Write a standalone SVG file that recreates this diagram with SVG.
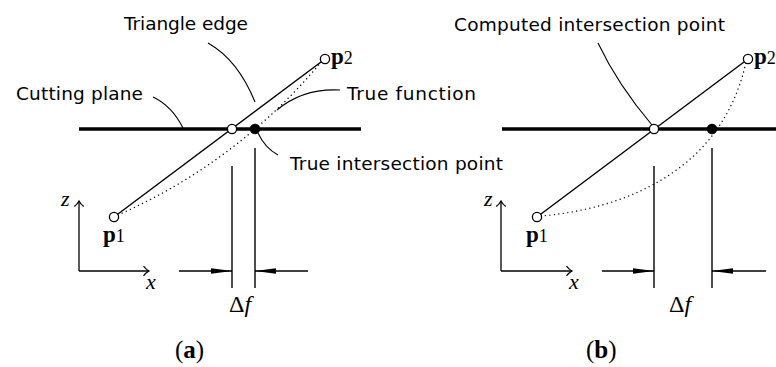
<svg xmlns="http://www.w3.org/2000/svg" width="776" height="367" viewBox="0 0 776 367">
<defs>
<marker id="fa" markerUnits="userSpaceOnUse" markerWidth="22" markerHeight="8" viewBox="0 0 22 8" refX="21" refY="4" orient="auto">
<path d="M0,1.3 L21,4 L0,6.7 Z" fill="#000"/>
</marker>
<marker id="oa" markerUnits="userSpaceOnUse" markerWidth="12" markerHeight="12" viewBox="0 0 12 12" refX="10" refY="6" orient="auto">
<path d="M4.5,1.2 Q7,4.5 10,6 Q7,7.5 4.5,10.8" fill="none" stroke="#000" stroke-width="1.2"/>
</marker>
</defs>
<style>
.lbl{font-family:"DejaVu Sans","Liberation Sans",sans-serif;font-size:18.5px;fill:#000}
.math{font-family:"Liberation Serif","DejaVu Serif",serif;fill:#000}
.plane{stroke:#000;stroke-width:3.5;fill:none}
.edge{stroke:#000;stroke-width:1.4;fill:none}
.dot{stroke:#000;stroke-width:1.4;fill:none;stroke-dasharray:0.01 4.5;stroke-linecap:round}
.lead{stroke:#000;stroke-width:1.1;fill:none}
.vl{stroke:#000;stroke-width:1.4;fill:none}
.dim{stroke:#000;stroke-width:1.3;fill:none;marker-end:url(#fa)}
.ax{stroke:#000;stroke-width:1.3;fill:none;marker-end:url(#oa)}
.oc{fill:#fff;stroke:#000;stroke-width:1.3}
.fc{fill:#000;stroke:#000;stroke-width:1}
</style>

<!-- Panel (a) -->
<g id="a-plane"><line class="plane" x1="79" y1="129" x2="361" y2="129"/></g>
<g id="connectors-a">
<line class="edge" x1="114" y1="217" x2="325" y2="59"/>
<path class="dot" d="M118,215 Q238,162 322,61"/>
<path class="lead" d="M208,43 Q238,60 255,102"/>
<path class="lead" d="M153,97 Q172,106 183,128"/>
<path class="lead" d="M340,90 Q303,88 277,110"/>
<path class="lead" d="M258,133 Q265,148 278,155"/>
<line class="vl" x1="232" y1="166" x2="232" y2="288"/>
<line class="vl" x1="255" y1="148" x2="255" y2="288"/>
<line class="dim" x1="179" y1="271" x2="232" y2="271"/>
<line class="dim" x1="308" y1="271" x2="255" y2="271"/>
<line class="ax" x1="79" y1="271" x2="79" y2="201"/>
<line class="ax" x1="79" y1="271" x2="149" y2="271"/>
</g>
<g id="a-p1"><circle class="oc" cx="114" cy="217" r="4.6"/>
<text class="math" x="103" y="242" font-size="23" font-weight="bold">p<tspan font-weight="normal" font-size="18">1</tspan></text></g>
<g id="a-p2"><circle class="oc" cx="325" cy="59" r="4.6"/>
<text class="math" x="331" y="64" font-size="23" font-weight="bold">p<tspan font-weight="normal" font-size="18">2</tspan></text></g>
<g id="a-computed"><circle class="oc" cx="232" cy="129" r="4.6"/></g>
<g id="a-true"><circle class="fc" cx="255" cy="129" r="4.8"/></g>
<g id="a-labels">
<text class="lbl" x="124" y="30" textLength="124">Triangle edge</text>
<text class="lbl" x="16" y="100" textLength="127">Cutting plane</text>
<text class="lbl" x="347" y="100" textLength="129">True function</text>
<text class="lbl" x="290" y="170" textLength="213">True intersection point</text>
<text class="math" x="229" y="312" font-size="24">Δ<tspan font-style="italic">f</tspan></text>
<text class="math" x="61" y="206" font-size="22" font-style="italic">z</text>
<text class="math" x="146" y="289" font-size="22" font-style="italic">x</text>
<text class="math" x="175" y="358" font-size="25">(<tspan font-weight="bold">a</tspan>)</text>
</g>

<!-- Panel (b) -->
<g id="b-plane"><line class="plane" x1="502" y1="129" x2="776" y2="129"/></g>
<g id="connectors-b">
<line class="edge" x1="537" y1="217" x2="748" y2="59"/>
<path class="dot" d="M541,216 C610,210 720,180 746,62"/>
<path class="lead" d="M598,43 Q618,85 652,125"/>
<line class="vl" x1="654" y1="166" x2="654" y2="288"/>
<line class="vl" x1="712" y1="148" x2="712" y2="288"/>
<line class="dim" x1="602" y1="271" x2="654" y2="271"/>
<line class="dim" x1="766" y1="271" x2="712" y2="271"/>
<line class="ax" x1="501" y1="271" x2="501" y2="201"/>
<line class="ax" x1="501" y1="271" x2="572" y2="271"/>
</g>
<g id="b-p1"><circle class="oc" cx="537" cy="217" r="4.6"/>
<text class="math" x="526" y="242" font-size="23" font-weight="bold">p<tspan font-weight="normal" font-size="18">1</tspan></text></g>
<g id="b-p2"><circle class="oc" cx="748" cy="59" r="4.6"/>
<text class="math" x="754" y="64" font-size="23" font-weight="bold">p<tspan font-weight="normal" font-size="18">2</tspan></text></g>
<g id="b-computed"><circle class="oc" cx="654" cy="129" r="4.6"/></g>
<g id="b-true"><circle class="fc" cx="712" cy="129" r="4.8"/></g>
<g id="b-labels">
<text class="lbl" x="454" y="31" textLength="271">Computed intersection point</text>
<text class="math" x="669" y="312" font-size="24">Δ<tspan font-style="italic">f</tspan></text>
<text class="math" x="484" y="206" font-size="22" font-style="italic">z</text>
<text class="math" x="569" y="289" font-size="22" font-style="italic">x</text>
<text class="math" x="586" y="358" font-size="25">(<tspan font-weight="bold">b</tspan>)</text>
</g>
</svg>
